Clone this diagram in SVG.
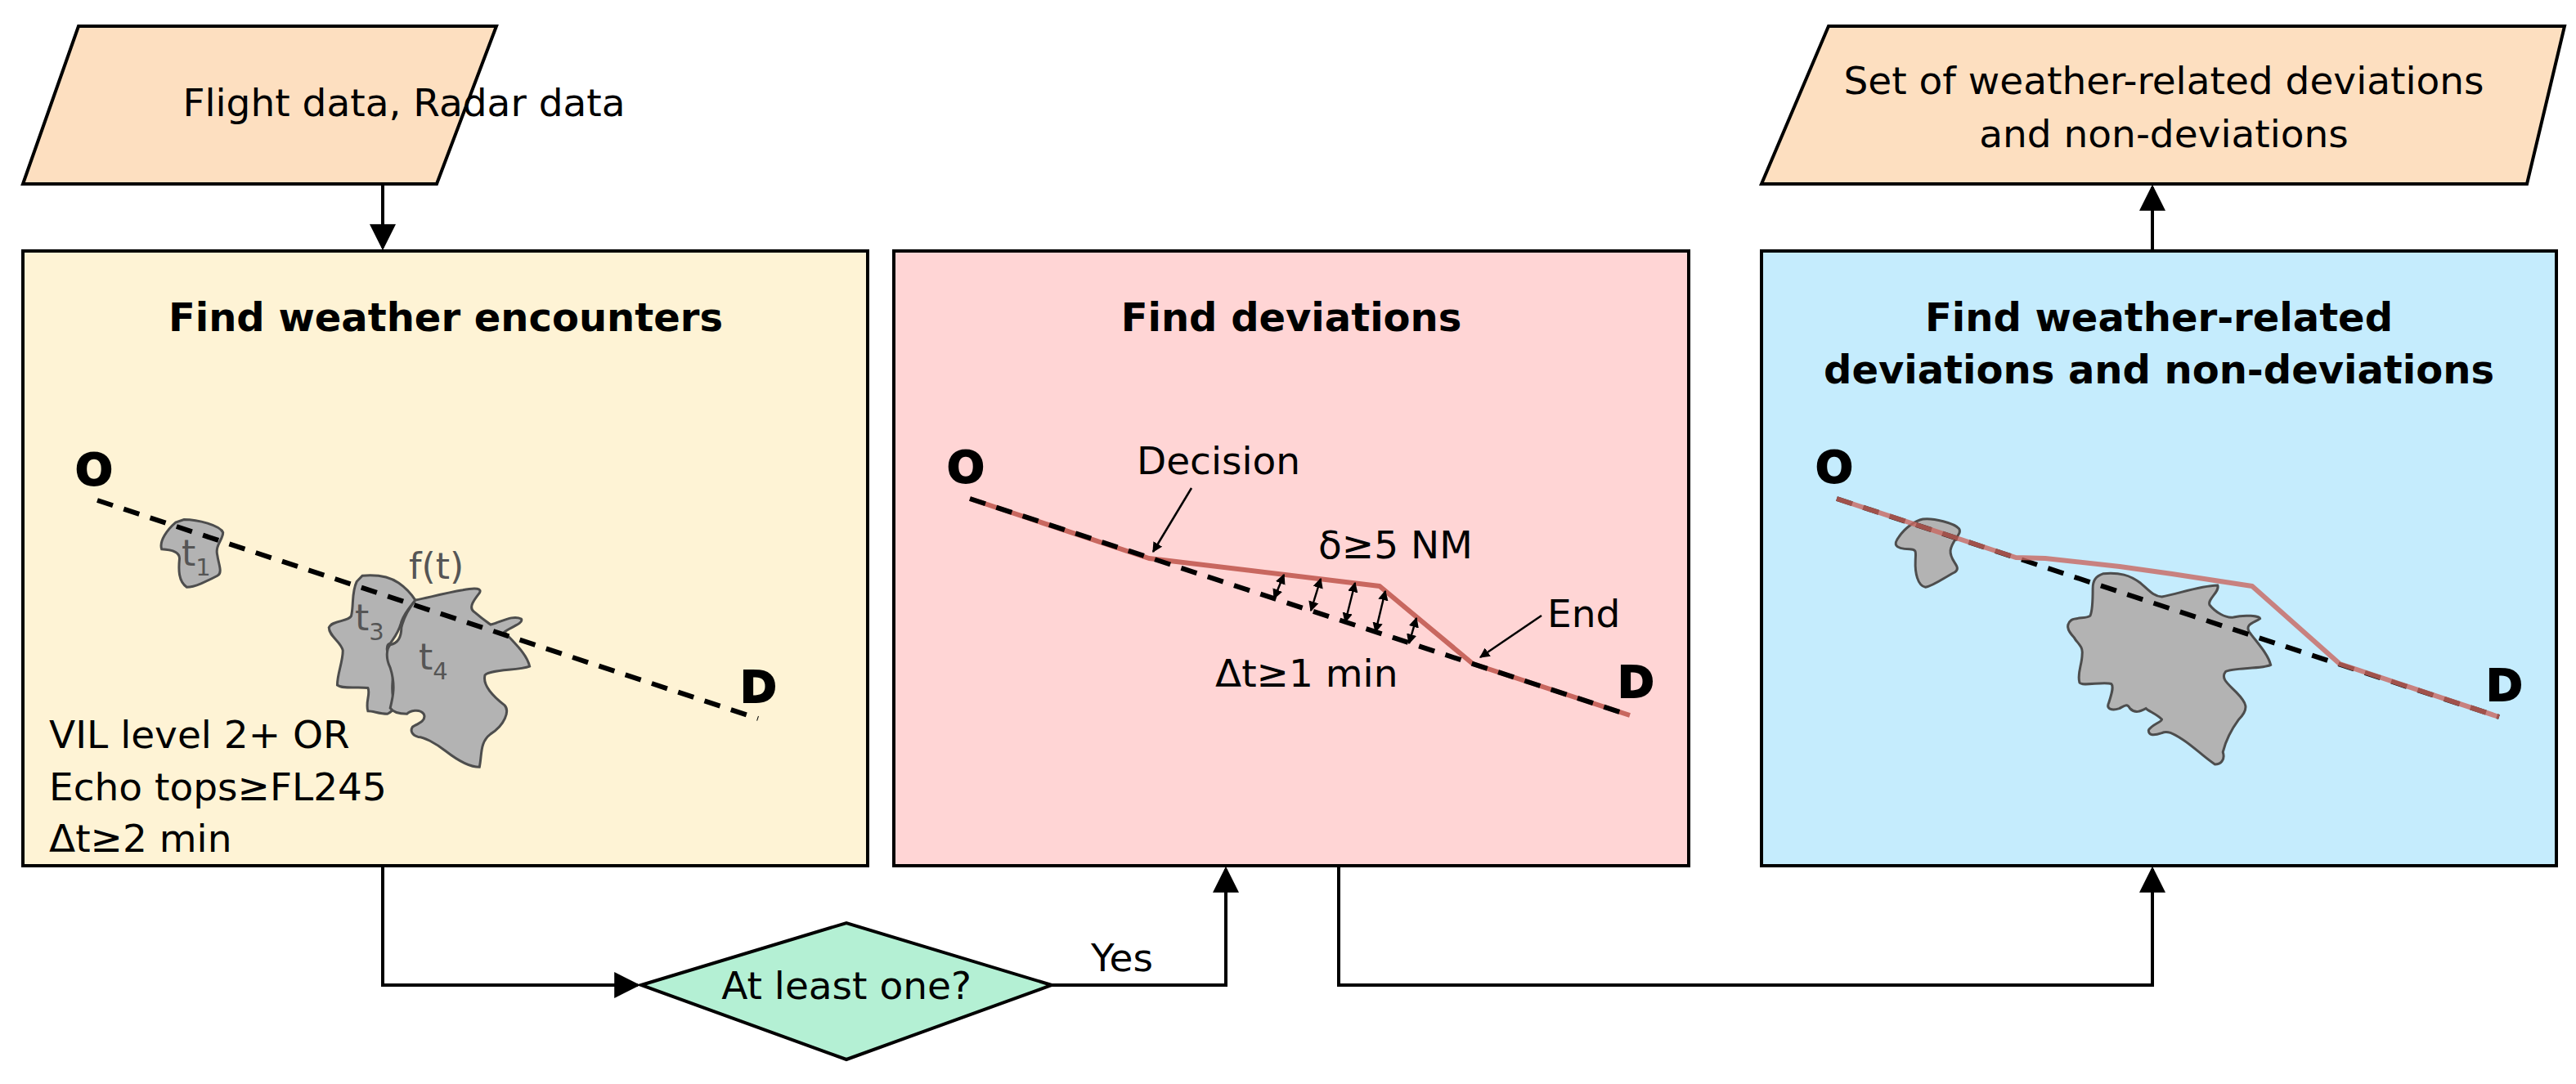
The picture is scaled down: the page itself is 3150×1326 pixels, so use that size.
<svg xmlns="http://www.w3.org/2000/svg" width="3150" height="1326" viewBox="0 0 3150 1326">
<style>
text{font-family:"DejaVu Sans","Liberation Sans",sans-serif;fill:#000}
.t{font-size:47px}
.s{font-size:43px}
.h{font-size:48px;font-weight:bold}
.od{font-size:54px;font-weight:bold;stroke:#000;stroke-width:2}
.g{fill:#555;font-size:44px}
.box{stroke:#000;stroke-width:4}
.con{fill:none;stroke:#000;stroke-width:4}
.dash{fill:none;stroke:#000;stroke-width:6;stroke-dasharray:20,14}
.red{fill:none;stroke:#c8675f;stroke-width:6;stroke-linejoin:round}
.cloud{fill:#b3b3b3;stroke:#4d4d4d;stroke-width:3;vector-effect:non-scaling-stroke}
.thin{fill:none;stroke:#000;stroke-width:2.5}
</style>
<defs>
<marker id="ah" viewBox="0 0 10 10" refX="9" refY="5" markerWidth="8" markerHeight="8" markerUnits="strokeWidth" orient="auto"><path d="M0,0L10,5L0,10Z" fill="#000"/></marker>
<marker id="sa" viewBox="0 0 10 10" refX="9" refY="5" markerWidth="5" markerHeight="5" markerUnits="strokeWidth" orient="auto-start-reverse"><path d="M0,0L10,5L0,10Z" fill="#000"/></marker>
</defs>

<g id="input">
<polygon class="box" points="96,32 607,32 534,225 28,225" fill="#fddfc0"/>
<text class="t" x="494" y="142" text-anchor="middle">Flight data, Radar data</text>
</g>
<g id="output">
<polygon class="box" points="2236,32 3136,32 3090,225 2154,225" fill="#fddfc0"/>
<text class="t" x="2646" y="115" text-anchor="middle">Set of weather-related deviations</text>
<text class="t" x="2646" y="180" text-anchor="middle">and non-deviations</text>
</g>

<g id="encounters">
<rect class="box" x="28" y="307" width="1033" height="752" fill="#fef3d5"/>
<text class="h" x="545" y="405" text-anchor="middle">Find weather encounters</text>
<text class="od" x="92" y="593">O</text>
<g transform="translate(0,500) scale(0.6817,0.3521)">
<path class="cloud" d="M330,385 C355,385 395,405 400,430 C400,455 385,475 390,510 C392,540 400,570 390,580 C370,600 350,620 335,620 C320,600 320,560 322,520 C322,500 310,490 290,488 C285,460 300,420 315,395 Z"/>
<path class="cloud" d="M650,580 C680,575 700,585 715,605 C730,625 740,650 745,665 C735,690 725,710 720,740 C715,780 705,800 700,815 C690,820 695,850 700,880 C710,920 700,960 705,1000 C710,1040 705,1050 695,1060 C680,1060 670,1050 660,1050 C655,1020 665,990 660,970 C640,965 615,975 605,960 C605,920 615,880 615,840 C612,810 590,790 590,760 C595,735 625,740 630,720 C635,680 630,640 640,600 Z"/>
<path class="cloud" d="M745,665 C770,655 800,640 830,630 C855,620 865,625 860,640 C850,665 840,690 850,705 C865,730 880,750 880,750 C900,740 920,715 935,730 C940,745 915,760 905,775 C920,810 945,850 950,895 C930,910 880,905 870,925 C865,960 885,1000 905,1030 C915,1050 905,1100 880,1130 C860,1160 865,1200 860,1245 C840,1245 820,1220 800,1190 C780,1160 760,1140 750,1140 C740,1135 735,1120 740,1105 C755,1090 765,1080 760,1060 C752,1040 735,1050 730,1060 C715,1060 705,1055 700,1040 C705,1000 710,960 700,900 C690,860 695,830 700,820 C715,815 720,790 720,760 C725,720 735,690 745,665 Z"/>
</g>
<line class="dash" x1="119" y1="612" x2="927" y2="879"/>
<text class="g" x="222" y="692">t<tspan font-size="29" dy="12">1</tspan></text>
<text class="g" x="500" y="708">f(t)</text>
<text class="g" x="434" y="771">t<tspan font-size="29" dy="12">3</tspan></text>
<text class="g" x="512" y="819">t<tspan font-size="29" dy="12">4</tspan></text>
<text class="od" x="905" y="859">D</text>
<text class="t" x="60" y="915">VIL level 2+ OR</text>
<text class="t" x="60" y="979">Echo tops≥FL245</text>
<text class="t" x="60" y="1042">Δt≥2 min</text>
</g>

<g id="deviations">
<rect class="box" x="1093" y="307" width="972" height="752" fill="#ffd5d5"/>
<text class="h" x="1579" y="405" text-anchor="middle">Find deviations</text>
<text class="od" x="1158" y="590">O</text>
<polyline class="red" points="1186,610 1405,683 1687,717 1801,812 1993,875"/>
<line class="dash" x1="1186" y1="610" x2="1993" y2="875"/>
<text class="t" x="1390" y="580">Decision</text>
<line class="thin" x1="1457" y1="597" x2="1410" y2="675" marker-end="url(#sa)"/>
<text class="t" x="1612" y="683">δ≥5 NM</text>
<text class="t" x="1892" y="767">End</text>
<line class="thin" x1="1885" y1="753" x2="1810" y2="804" marker-end="url(#sa)"/>
<text class="t" x="1486" y="840">Δt≥1 min</text>
<g class="thin">
<line x1="1558" y1="732" x2="1570" y2="703" marker-start="url(#sa)" marker-end="url(#sa)"/>
<line x1="1603" y1="747" x2="1615" y2="708" marker-start="url(#sa)" marker-end="url(#sa)"/>
<line x1="1645" y1="761" x2="1657" y2="713" marker-start="url(#sa)" marker-end="url(#sa)"/>
<line x1="1682" y1="773" x2="1694" y2="723" marker-start="url(#sa)" marker-end="url(#sa)"/>
<line x1="1723" y1="787" x2="1732" y2="756" marker-start="url(#sa)" marker-end="url(#sa)"/>
</g>
<text class="od" x="1978" y="853">D</text>
</g>

<g id="weather-related">
<rect class="box" x="2154" y="307" width="972" height="752" fill="#c5ecfd"/>
<text class="h" x="2640" y="405" text-anchor="middle">Find weather-related</text>
<text class="h" x="2640" y="469" text-anchor="middle">deviations and non-deviations</text>
<text class="od" x="2220" y="590">O</text>
<g transform="translate(2150,500) scale(0.6494,0.3333)">
<path class="cloud" d="M310,405 C330,400 370,420 378,440 C385,460 365,480 362,520 C360,560 385,580 370,600 C350,620 330,650 315,655 C300,650 295,600 296,560 C296,530 300,515 285,515 C255,515 255,495 265,470 C275,440 295,410 310,405 Z"/>
<path class="cloud" d="M650,605 C680,600 700,610 720,640 C735,665 745,690 760,690 C790,680 830,650 865,648 C870,670 845,700 850,720 C860,745 880,770 895,765 C915,755 945,760 945,770 C935,785 915,790 925,820 C940,860 960,900 965,940 C950,955 890,950 880,965 C870,990 885,1010 900,1040 C920,1080 925,1100 905,1140 C890,1180 880,1220 875,1260 C880,1290 870,1305 860,1305 C840,1280 820,1240 800,1215 C780,1190 770,1180 760,1190 C745,1200 735,1200 735,1180 C740,1160 760,1150 760,1140 C750,1120 735,1110 730,1100 C720,1110 710,1120 700,1100 C695,1080 690,1090 680,1100 C665,1110 655,1100 660,1080 C665,1050 670,1020 665,1010 C650,1000 610,1020 605,1005 C600,970 610,940 610,900 C612,870 600,860 595,840 C580,810 580,790 590,775 C600,765 620,770 625,760 C630,740 630,700 630,660 C630,630 635,615 650,605 Z"/>
</g>
<line class="dash" x1="2246" y1="610" x2="3056" y2="877"/>
<polyline class="red" opacity="0.8" points="2246,610 2465,682 2501,683 2592,693 2656,702 2754,717 2861,812 3056,877"/>
<text class="od" x="3040" y="857">D</text>
</g>

<g id="decision">
<polygon class="box" points="784,1205 1035,1129 1286,1205 1035,1296" fill="#b4f0d4"/>
<text class="t" x="1035" y="1222" text-anchor="middle">At least one?</text>
</g>

<g id="connectors">
<line class="con" x1="468" y1="225" x2="468" y2="303" marker-end="url(#ah)"/>
<polyline class="con" points="468,1059 468,1205 780,1205" marker-end="url(#ah)"/>
<polyline class="con" points="1286,1205 1499,1205 1499,1063" marker-end="url(#ah)"/>
<text class="t" x="1372" y="1188" text-anchor="middle">Yes</text>
<polyline class="con" points="1637,1059 1637,1205 2632,1205 2632,1063" marker-end="url(#ah)"/>
<line class="con" x1="2632" y1="307" x2="2632" y2="229" marker-end="url(#ah)"/>
</g>
</svg>
